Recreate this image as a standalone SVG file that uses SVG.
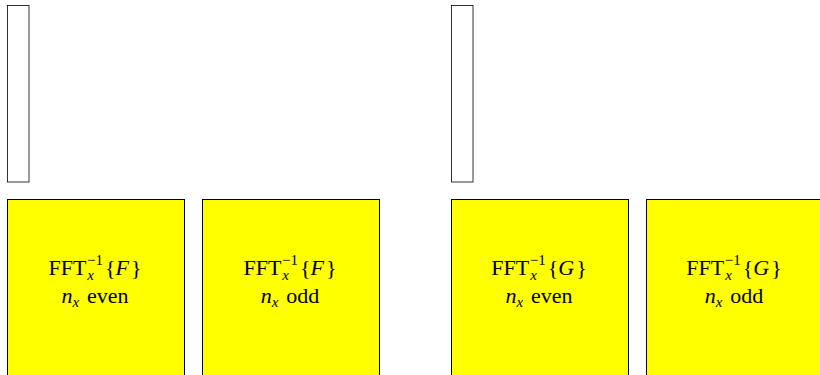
<svg xmlns="http://www.w3.org/2000/svg" width="820" height="375" viewBox="0 0 820 375">
<style>
.thin{fill:#fff;stroke:#000;stroke-width:0.8}
.box{fill:#ffff00;stroke:#000;stroke-width:1}
text{font-family:"Liberation Serif","DejaVu Serif",serif;font-size:22px;fill:#000;text-anchor:middle}
.it{font-style:italic}
.sm{font-size:15px}
</style>
<g id="col1"><rect class="thin" x="7.5" y="5.5" width="21.5" height="176.5"/></g>
<g id="col2"><rect class="thin" x="451.5" y="5.5" width="21.5" height="176.5"/></g>
<g id="n1"><rect class="box" x="7.5" y="199.5" width="177" height="190"/>
<text x="95" y="275">FFT<tspan class="it sm" dx="1" dy="5">x</tspan><tspan class="sm" dx="-7" dy="-15">−1</tspan><tspan dx="2" dy="10">{</tspan><tspan class="it">F</tspan><tspan dx="2">}</tspan></text>
<text x="95" y="303"><tspan class="it">n</tspan><tspan class="it sm" dy="4">x</tspan><tspan dx="8" dy="-4">even</tspan></text></g>
<g id="n2"><rect class="box" x="202.5" y="199.5" width="177" height="190"/>
<text x="290" y="275">FFT<tspan class="it sm" dx="1" dy="5">x</tspan><tspan class="sm" dx="-7" dy="-15">−1</tspan><tspan dx="2" dy="10">{</tspan><tspan class="it">F</tspan><tspan dx="2">}</tspan></text>
<text x="290" y="303"><tspan class="it">n</tspan><tspan class="it sm" dy="4">x</tspan><tspan dx="8" dy="-4">odd</tspan></text></g>
<g id="n3"><rect class="box" x="451.5" y="199.5" width="177" height="190"/>
<text x="539" y="275">FFT<tspan class="it sm" dx="1" dy="5">x</tspan><tspan class="sm" dx="-7" dy="-15">−1</tspan><tspan dx="2" dy="10">{</tspan><tspan class="it">G</tspan><tspan dx="2">}</tspan></text>
<text x="539" y="303"><tspan class="it">n</tspan><tspan class="it sm" dy="4">x</tspan><tspan dx="8" dy="-4">even</tspan></text></g>
<g id="n4"><rect class="box" x="646.5" y="199.5" width="177" height="190"/>
<text x="734" y="275">FFT<tspan class="it sm" dx="1" dy="5">x</tspan><tspan class="sm" dx="-7" dy="-15">−1</tspan><tspan dx="2" dy="10">{</tspan><tspan class="it">G</tspan><tspan dx="2">}</tspan></text>
<text x="734" y="303"><tspan class="it">n</tspan><tspan class="it sm" dy="4">x</tspan><tspan dx="8" dy="-4">odd</tspan></text></g>
<g id="connectors"></g>
</svg>
